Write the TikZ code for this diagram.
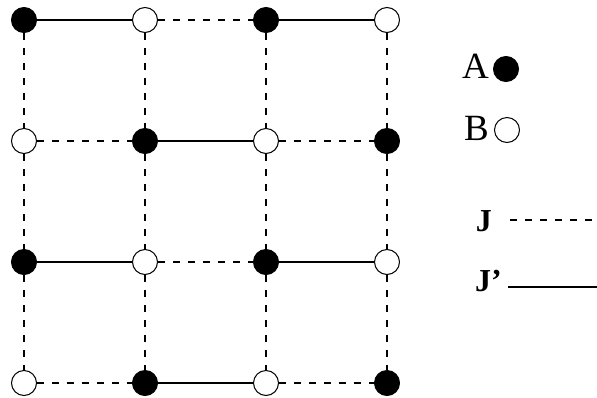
\documentclass[tikz,border=0pt]{standalone}
\usepackage{fontspec}
\setmainfont{Liberation Serif}
\begin{document}
\begin{tikzpicture}[x=1pt,y=-1pt,
    siteA/.style={circle,draw,fill=black,minimum size=25pt,inner sep=0pt,line width=1pt},
    siteB/.style={circle,draw,fill=white,minimum size=25pt,inner sep=0pt,line width=1pt},
    bondJ/.style={line width=2.2pt,dash pattern=on 7pt off 8pt},
    bondJp/.style={line width=2pt}]
    \useasboundingbox (0,0) rectangle (597,397);
    % lattice sites
    \node[siteA] (s11) at (24,20) {};  \node[siteB] (s12) at (145,20) {};
    \node[siteA] (s13) at (266,20) {}; \node[siteB] (s14) at (387,20) {};
    \node[siteB] (s21) at (24,141) {};  \node[siteA] (s22) at (145,141) {};
    \node[siteB] (s23) at (266,141) {}; \node[siteA] (s24) at (387,141) {};
    \node[siteA] (s31) at (24,262) {};  \node[siteB] (s32) at (145,262) {};
    \node[siteA] (s33) at (266,262) {}; \node[siteB] (s34) at (387,262) {};
    \node[siteB] (s41) at (24,383) {};  \node[siteA] (s42) at (145,383) {};
    \node[siteB] (s43) at (266,383) {}; \node[siteA] (s44) at (387,383) {};
    % horizontal bonds
    \draw[bondJp] (s11)--(s12); \draw[bondJ] (s12)--(s13); \draw[bondJp] (s13)--(s14);
    \draw[bondJ] (s21)--(s22); \draw[bondJp] (s22)--(s23); \draw[bondJ] (s23)--(s24);
    \draw[bondJp] (s31)--(s32); \draw[bondJ] (s32)--(s33); \draw[bondJp] (s33)--(s34);
    \draw[bondJ] (s41)--(s42); \draw[bondJp] (s42)--(s43); \draw[bondJ] (s43)--(s44);
    % vertical bonds
    \draw[bondJ] (s11)--(s21); \draw[bondJ] (s21)--(s31); \draw[bondJ] (s31)--(s41);
    \draw[bondJ] (s12)--(s22); \draw[bondJ] (s22)--(s32); \draw[bondJ] (s32)--(s42);
    \draw[bondJ] (s13)--(s23); \draw[bondJ] (s23)--(s33); \draw[bondJ] (s33)--(s43);
    \draw[bondJ] (s14)--(s24); \draw[bondJ] (s24)--(s34); \draw[bondJ] (s34)--(s44);
    % legend
    \node[font=\fontsize{37}{40}\selectfont,anchor=base east,inner sep=0pt] (labA) at (489,78) {A};
    \node[siteA] (keyA) at (506,69) {};
    \node[font=\fontsize{37}{40}\selectfont,anchor=base east,inner sep=0pt] (labB) at (489,140) {B};
    \node[siteB] (keyB) at (507,130) {};
    \node[font=\fontsize{32}{34}\selectfont\bfseries,anchor=base east,inner sep=0pt] (labJ) at (492,231) {J};
    \node[font=\fontsize{32}{34}\selectfont\bfseries,anchor=base east,inner sep=0pt] (labJp) at (502,291) {J'};
    \coordinate (jS) at (510,220); \coordinate (jE) at (597,220);
    \coordinate (jpS) at (508,287); \coordinate (jpE) at (597,287);
    \draw[bondJ] (jS)--(jE); \draw[bondJp] (jpS)--(jpE);
\end{tikzpicture}
\end{document}
